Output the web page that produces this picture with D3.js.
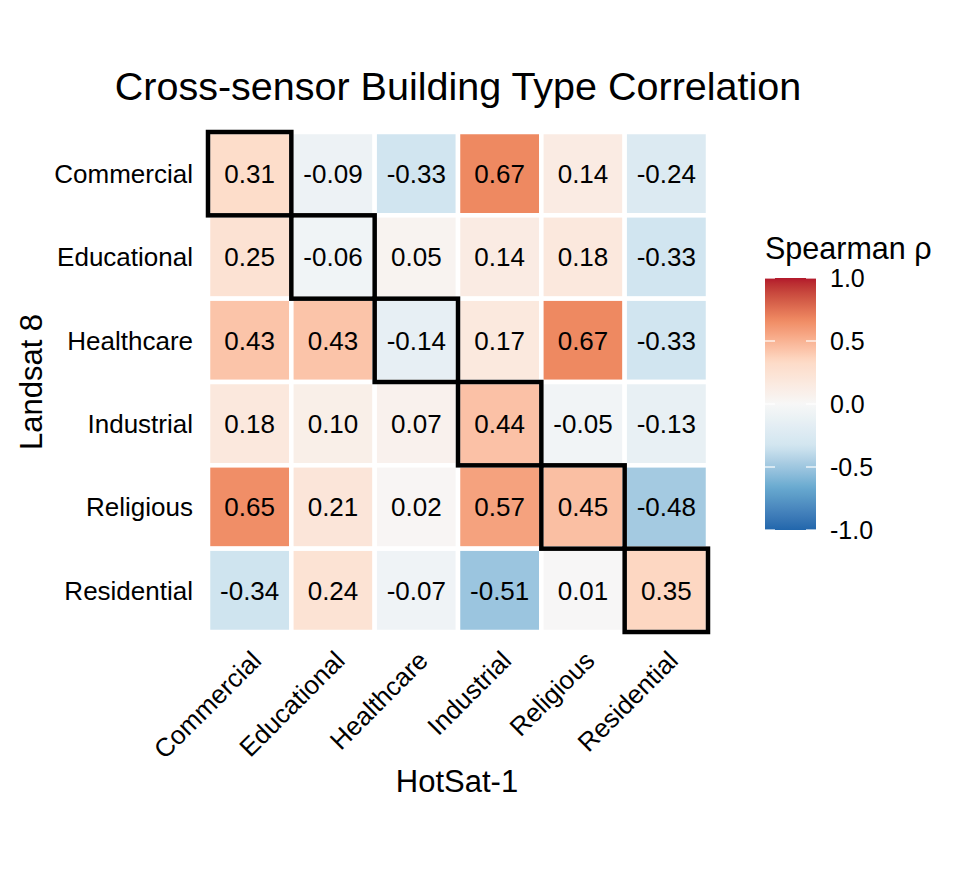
<!DOCTYPE html>
<html>
<head>
<meta charset="utf-8">
<script src="https://cdn.jsdelivr.net/npm/d3@7"></script>
<style>
  body { margin: 0; background: #fff; }
  text { font-family: "Liberation Sans", Arial, sans-serif; fill: #000; }
</style>
</head>
<body>
<div id="charts"></div>
<script>
// HotSat-1 columns / Landsat 8 rows
const buildingTypes = ["Commercial", "Educational", "Healthcare", "Industrial", "Religious", "Residential"];

// one array per Landsat 8 row, values in HotSat-1 column order
const commercialRow  = [0.31, -0.09, -0.33, 0.67, 0.14, -0.24];
const educationalRow = [0.25, -0.06, 0.05, 0.14, 0.18, -0.33];
const healthcareRow  = [0.43, 0.43, -0.14, 0.17, 0.67, -0.33];
const industrialRow  = [0.18, 0.10, 0.07, 0.44, -0.05, -0.13];
const religiousRow   = [0.65, 0.21, 0.02, 0.57, 0.45, -0.48];
const residentialRow = [-0.34, 0.24, -0.07, -0.51, 0.01, 0.35];

const legendTicks = [1.0, 0.5, 0.0, -0.5, -1.0];
const paletteStops = [-1, -2/3, -1/3, 0, 1/3, 2/3, 1];
const paletteColors = ["#2166AC", "#67A9CF", "#D1E5F0", "#F7F7F7", "#FDDBC7", "#EF8A62", "#B2182B"];

const rows = [commercialRow, educationalRow, healthcareRow, industrialRow, religiousRow, residentialRow];
const cells = [];
rows.forEach((r, i) => r.forEach((v, j) => cells.push({ row: buildingTypes[i], col: buildingTypes[j], v })));

const width = 968;
const height = 871;

const svg = d3.select("#charts")
    .append("svg")
    .attr("width", width)
    .attr("height", height);

const xScale = d3.scaleBand().domain(buildingTypes).range([208, 708]);
const yScale = d3.scaleBand().domain(buildingTypes).range([132, 632]);

const color = d3.scaleLinear()
    .domain(paletteStops)
    .range(paletteColors)
    .interpolate(d3.interpolateLab)
    .clamp(true);

// tiles
svg.append("g").selectAll("rect")
    .data(cells)
    .enter()
    .append("rect")
    .attr("x", (d) => xScale(d.col))
    .attr("y", (d) => yScale(d.row))
    .attr("width", xScale.bandwidth())
    .attr("height", yScale.bandwidth())
    .attr("fill", (d) => color(d.v))
    .attr("stroke", "#fff")
    .attr("stroke-width", 4.5);

svg.append("g").selectAll("text")
    .data(cells)
    .enter()
    .append("text")
    .attr("x", (d) => xScale(d.col) + xScale.bandwidth() / 2)
    .attr("y", (d) => yScale(d.row) + yScale.bandwidth() / 2)
    .attr("dy", "0.36em")
    .attr("text-anchor", "middle")
    .style("font-size", "26px")
    .text((d) => d.v.toFixed(2));

// diagonal outlines
svg.append("g").selectAll("rect")
    .data(buildingTypes)
    .enter()
    .append("rect")
    .attr("x", (d) => xScale(d))
    .attr("y", (d) => yScale(d))
    .attr("width", xScale.bandwidth())
    .attr("height", yScale.bandwidth())
    .attr("fill", "none")
    .attr("stroke", "#000")
    .attr("stroke-width", 4.5);

// y axis labels
svg.append("g").selectAll("text")
    .data(buildingTypes)
    .enter()
    .append("text")
    .attr("x", 193)
    .attr("y", (d) => yScale(d) + yScale.bandwidth() / 2)
    .attr("dy", "0.36em")
    .attr("text-anchor", "end")
    .style("font-size", "26px")
    .text((d) => d);

// x axis labels, 45 degrees
svg.append("g").selectAll("text")
    .data(buildingTypes)
    .enter()
    .append("text")
    .attr("transform", (d) => `translate(${xScale(d) + xScale.bandwidth() / 2},649) rotate(-45)`)
    .attr("dy", "0.72em")
    .attr("text-anchor", "end")
    .style("font-size", "26px")
    .text((d) => d);

// titles
svg.append("text")
    .attr("x", 458)
    .attr("y", 100)
    .attr("text-anchor", "middle")
    .style("font-size", "39.5px")
    .text("Cross-sensor Building Type Correlation");

svg.append("text")
    .attr("x", 457)
    .attr("y", 792)
    .attr("text-anchor", "middle")
    .style("font-size", "31px")
    .text("HotSat-1");

svg.append("text")
    .attr("transform", "translate(42,382) rotate(-90)")
    .attr("text-anchor", "middle")
    .style("font-size", "31px")
    .text("Landsat 8");

// legend colourbar
const legendScale = d3.scaleLinear().domain([-1, 1]).range([530, 278]);
const grad = svg.append("defs").append("linearGradient")
    .attr("id", "bar")
    .attr("x1", 0).attr("y1", 1).attr("x2", 0).attr("y2", 0);
grad.selectAll("stop")
    .data(d3.range(0, 1.0001, 0.02))
    .enter()
    .append("stop")
    .attr("offset", (t) => t)
    .attr("stop-color", (t) => color(-1 + 2 * t));

svg.append("text")
    .attr("x", 765)
    .attr("y", 259)
    .style("font-size", "30.5px")
    .text("Spearman ρ");

svg.append("rect")
    .attr("x", 765)
    .attr("y", legendScale(1))
    .attr("width", 51)
    .attr("height", legendScale(-1) - legendScale(1))
    .attr("fill", "url(#bar)");

const tickG = svg.append("g").selectAll("g")
    .data(legendTicks)
    .enter()
    .append("g");
tickG.append("line")
    .attr("x1", 765).attr("x2", 775)
    .attr("y1", (d) => legendScale(d)).attr("y2", (d) => legendScale(d))
    .attr("stroke", "#fff").attr("stroke-width", 1.2);
tickG.append("line")
    .attr("x1", 806).attr("x2", 816)
    .attr("y1", (d) => legendScale(d)).attr("y2", (d) => legendScale(d))
    .attr("stroke", "#fff").attr("stroke-width", 1.2);
tickG.append("text")
    .attr("x", 830)
    .attr("y", (d) => legendScale(d))
    .attr("dy", "0.36em")
    .style("font-size", "25px")
    .text((d) => d.toFixed(1));
</script>
</body>
</html>
